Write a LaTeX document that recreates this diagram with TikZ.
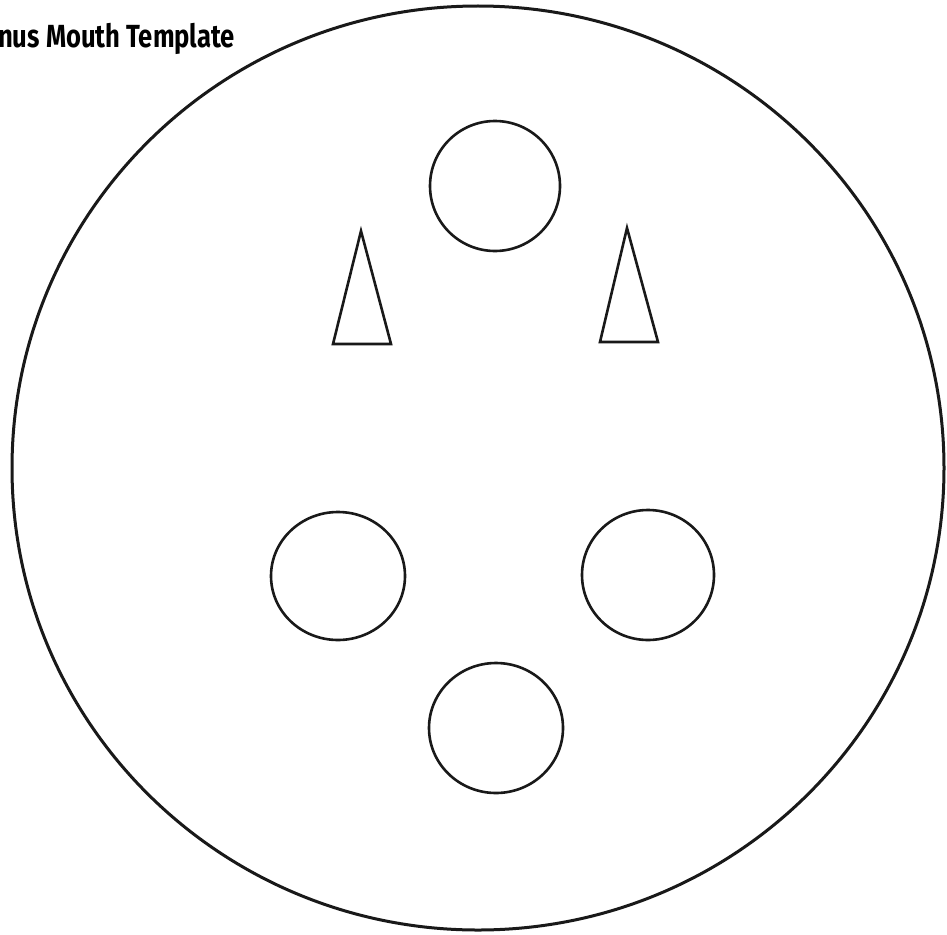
\documentclass[tikz,border=0pt]{standalone}
\usepackage{fontspec}
\newfontfamily\titlefont{Fira Sans}
\begin{document}
\begin{tikzpicture}[x=1pt,y=-1pt,
  outline/.style={draw=black!90, line width=3pt},
  hole/.style={draw=black!90, line width=2.6pt},
  tooth/.style={draw=black!90, line width=2.6pt, line join=miter}]
\useasboundingbox[fill=white] (0,0) rectangle (947,934);
% outer mouth
\draw[outline] (478,468) ellipse [x radius=466, y radius=462];
% holes
\draw[hole] (495,186) circle [radius=65];
\draw[hole] (338,576) ellipse [x radius=67, y radius=64];
\draw[hole] (648,575) ellipse [x radius=66, y radius=65];
\draw[hole] (496,728) ellipse [x radius=67, y radius=65];
% teeth
\draw[tooth] (361,231) -- (391,344) -- (333,344) -- cycle;
\draw[tooth] (627,228) -- (658,342) -- (600,342) -- cycle;
% title
\node[anchor=base west, inner sep=0pt, xscale=0.8] (title) at (-2,48)
  {\titlefont\bfseries\fontsize{32}{32}\selectfont nus Mouth Template};
\end{tikzpicture}
\end{document}
